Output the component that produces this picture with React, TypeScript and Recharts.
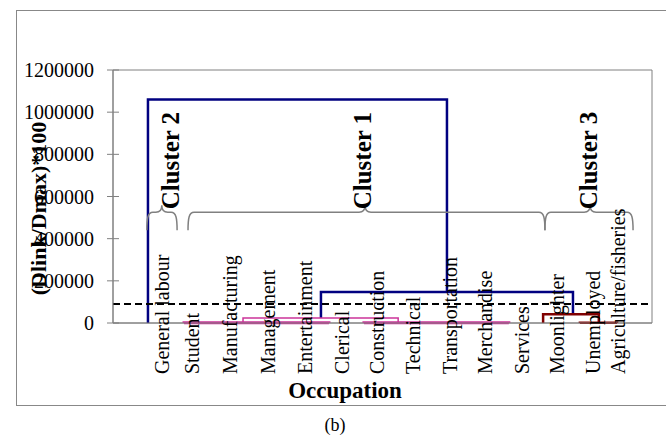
import {
    ComposedChart,
    XAxis,
    YAxis,
    Line,
    ReferenceLine,
    ReferenceArea,
    Label,
} from "recharts";

const occupations = [
    "General labour",
    "Student",
    "Manufacturing",
    "Management",
    "Entertainment",
    "Clerical",
    "Construction",
    "Technical",
    "Transportation",
    "Merchandise",
    "Services",
    "Moonlighter",
    "Unemployed",
    "Agriculture/fisheries",
];

// where each occupation label sits along the leaf axis
const occupationPos = [0.15, 0.97, 2.01, 3.06, 4.07, 5.09, 6.05, 7.04, 8.05, 9.01, 10.03, 10.99, 11.98, 12.67];

const yTicks = [0, 200000, 400000, 600000, 800000, 1000000, 1200000];
const cutoff = 90000;

// dendrogram links: left leg, right leg, join height, heights of the two children
const linkLeft = [-0.24, 4.51, 2.37, 0.75, 5.69, 10.61, 11.62];
const linkRight = [7.97, 11.43, 6.63, 4.73, 9.67, 12.14, 12.64];
const linkHeight = [1060000, 147000, 24000, 1500, 1500, 42000, 1500];
const linkLeftChild = [0, 24000, 0, 0, 0, 0, 0];
const linkRightChild = [147000, 42000, 0, 0, 0, 1500, 0];
const linkGroup = ["root", "root", "c1", "c1base", "c1base", "c3", "c3base"];

const clusterNames = ["Cluster 2", "Cluster 1", "Cluster 3"];
const clusterFrom = [-0.27, 0.86, 10.66];
const clusterTo = [0.56, 10.66, 13.08];
const clusterTip = [0.14, 5.72, 11.9];
const clusterLabelPos = [0.39, 5.64, 11.87];
const braceLevel = 525000;

const X_DOMAIN = [-1.2, 13.6];
const FONT = "'Liberation Serif', 'Times New Roman', serif";

const LINK_STYLE: Record<string, { stroke: string; width: number }> = {
    root: { stroke: "#000080", width: 2.5 },
    c1: { stroke: "#CC3399", width: 1.5 },
    c1base: { stroke: "#CC3399", width: 3 },
    c3: { stroke: "#800000", width: 2.5 },
    c3base: { stroke: "#800000", width: 2.5 },
};

const links = linkLeft.map((l, i) => ({
    group: linkGroup[i],
    points: [
        { x: l, y: linkLeftChild[i] },
        { x: l, y: linkHeight[i] },
        { x: linkRight[i], y: linkHeight[i] },
        { x: linkRight[i], y: linkRightChild[i] },
    ],
}));

function DistanceTick({ x, y, payload }: any) {
    return (
        <g>
            <line x1={x + 13} x2={x + 25} y1={y} y2={y} stroke="#808080" />
            <text x={x} y={y} dy="0.35em" textAnchor="end" fontSize={20} fill="#000" fontFamily={FONT}>
                {payload.value}
            </text>
        </g>
    );
}

function OccupationTick({ x, y, index }: any) {
    const ty = y + 49;
    return (
        <text
            x={x}
            y={ty}
            transform={`rotate(-90 ${x} ${ty})`}
            textAnchor="start"
            dominantBaseline="central"
            fontSize={20}
            fill="#000"
            fontFamily={FONT}
        >
            {occupations[index]}
        </text>
    );
}

const braceShape = (i: number) => (props: any) => {
    const { x1, x2, y1 } = props;
    const k = (x2 - x1) / (clusterTo[i] - clusterFrom[i]);
    const tip = x1 + (clusterTip[i] - clusterFrom[i]) * k;
    const lx = x1 + (clusterLabelPos[i] - clusterFrom[i]) * k;
    const y = y1;
    const d =
        `M${x1},${y + 18} C${x1},${y + 6} ${x1 + 1},${y} ${x1 + 6},${y} ` +
        `L${tip - 6},${y} C${tip - 2},${y} ${tip},${y - 2} ${tip},${y - 7} ` +
        `C${tip},${y - 2} ${tip + 2},${y} ${tip + 6},${y} ` +
        `L${x2 - 6},${y} C${x2 - 1},${y} ${x2},${y + 6} ${x2},${y + 18}`;
    return (
        <g>
            <path d={d} fill="none" stroke="#808080" strokeWidth={1.5} />
            <text
                x={lx}
                y={y - 3}
                transform={`rotate(-90 ${lx} ${y - 3})`}
                textAnchor="start"
                dominantBaseline="central"
                fontSize={25}
                fontWeight="bold"
                fill="#000"
                fontFamily={FONT}
            >
                {clusterNames[i]}
            </text>
        </g>
    );
};

export default function App() {
    return (
        <div
            style={{
                position: "absolute",
                left: 0,
                top: 0,
                width: 666,
                height: 441,
                overflow: "hidden",
                background: "#fff",
                fontFamily: FONT,
            }}
        >
            <div
                style={{
                    position: "absolute",
                    left: 16,
                    top: 10,
                    width: 670,
                    height: 396,
                    border: "1px solid #888",
                    boxSizing: "border-box",
                }}
            />
            <div style={{ position: "absolute", left: 0, top: 0 }}>
                <ComposedChart width={666} height={441} margin={{ top: 70, right: 14, bottom: 0, left: 13 }}>
                    <XAxis
                        dataKey="x"
                        type="number"
                        domain={X_DOMAIN}
                        allowDataOverflow
                        ticks={occupationPos}
                        interval={0}
                        tick={<OccupationTick />}
                        tickLine={false}
                        tickSize={0}
                        height={118}
                        stroke="#808080"
                    >
                        <Label
                            content={(p: any) => (
                                <text
                                    x={p.viewBox.x + 232}
                                    y={p.viewBox.y + 75}
                                    textAnchor="middle"
                                    fontSize={23}
                                    fontWeight="bold"
                                    fill="#000"
                                    fontFamily={FONT}
                                >
                                    Occupation
                                </text>
                            )}
                        />
                    </XAxis>
                    <YAxis
                        type="number"
                        domain={[0, 1200000]}
                        ticks={yTicks}
                        interval={0}
                        width={100}
                        tickSize={6}
                        tickMargin={13}
                        tickLine={false}
                        tick={<DistanceTick />}
                        stroke="#808080"
                    >
                        <Label
                            content={(p: any) => {
                                const cx = p.viewBox.x + 25;
                                const cy = p.viewBox.y + p.viewBox.height / 2 + 12;
                                return (
                                    <text
                                        x={cx}
                                        y={cy}
                                        transform={`rotate(-90 ${cx} ${cy})`}
                                        textAnchor="middle"
                                        dominantBaseline="central"
                                        fontSize={22}
                                        fontWeight="bold"
                                        fill="#000"
                                        fontFamily={FONT}
                                    >
                                        (Dlink/Dmax)*100
                                    </text>
                                );
                            }}
                        />
                    </YAxis>
                    <ReferenceArea
                        x1={X_DOMAIN[0]}
                        x2={X_DOMAIN[1]}
                        y1={0}
                        y2={1200000}
                        fill="none"
                        fillOpacity={0}
                        stroke="#808080"
                        strokeWidth={1}
                    />
                    {links.map((lk, i) => (
                        <Line
                            key={i}
                            data={lk.points}
                            dataKey="y"
                            type="linear"
                            stroke={LINK_STYLE[lk.group].stroke}
                            strokeWidth={LINK_STYLE[lk.group].width}
                            strokeLinejoin="miter"
                            dot={false}
                            activeDot={false}
                            isAnimationActive={false}
                        />
                    ))}
                    <ReferenceLine y={cutoff} stroke="#000" strokeWidth={2} strokeDasharray="7 4" />
                    {clusterNames.map((name, i) => (
                        <ReferenceLine
                            key={name}
                            segment={[
                                { x: clusterFrom[i], y: braceLevel },
                                { x: clusterTo[i], y: braceLevel },
                            ]}
                            shape={braceShape(i)}
                        />
                    ))}
                </ComposedChart>
            </div>
            <div style={{ position: "absolute", left: 0, width: 670, top: 415, textAlign: "center", fontSize: 18 }}>
                (b)
            </div>
        </div>
    );
}
